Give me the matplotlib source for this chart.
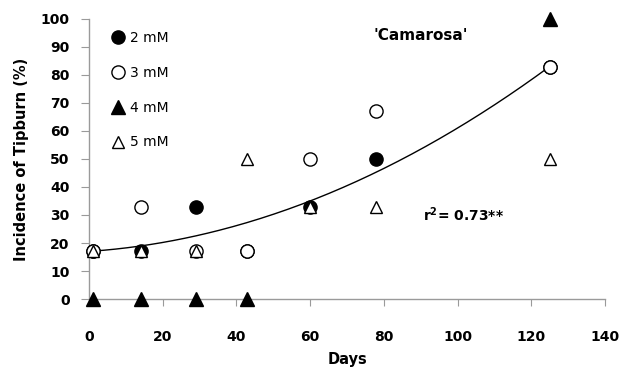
import numpy as np
import matplotlib.pyplot as plt

days = [1, 14, 29, 43, 60, 78, 125]
mm2 = [17, 17, 33, 17, 33, 50, 83]
mm3 = [17, 33, 17, 17, 50, 67, 83]
days4 = [1, 14, 29, 43, 125]
mm4 = [0, 0, 0, 0, 100]
mm5 = [17, 17, 17, 50, 33, 33, 50]

# quadratic trend line coefficients (a + b*x + c*x^2)
fit_coef = [17.0, 0.0895, 0.00351]

plt.rcParams['font.family'] = ['DejaVu Sans']

fig = plt.figure(figsize=(6.24, 3.71), dpi=100)
ax = fig.add_axes([0.1426, 0.194, 0.827, 0.755])

xs = np.linspace(1, 125, 200)
ax.plot(xs, fit_coef[0] + fit_coef[1] * xs + fit_coef[2] * xs ** 2,
        color="black", lw=1.0, zorder=2)

ms = 9.5
ax.plot(days, mm2, "o", ms=ms, mfc="black", mec="black", mew=1.0,
        label="2 mM", clip_on=False, zorder=3)
ax.plot(days, mm3, "o", ms=ms, mfc="white", mec="black", mew=1.0,
        label="3 mM", clip_on=False, zorder=4)
ax.plot(days4, mm4, "^", ms=ms, mfc="black", mec="black", mew=1.0,
        label="4 mM", clip_on=False, zorder=5)
ax.plot(days, mm5, "^", ms=ms - 1, mfc="white", mec="black", mew=1.0,
        label="5 mM", clip_on=False, zorder=6)

ax.set_xlim(0, 140)
ax.set_ylim(0, 100)
ax.set_xticks(range(0, 141, 20))
ax.set_yticks(range(0, 101, 10))

for s in ["top", "right"]:
    ax.spines[s].set_visible(False)
for s in ["left", "bottom"]:
    ax.spines[s].set_color("#9a9a9a")
    ax.spines[s].set_linewidth(1.0)

ax.tick_params(axis="y", direction="out", length=6, color="#9a9a9a", pad=8)
ax.tick_params(axis="x", direction="out", length=5, color="#9a9a9a", pad=17)
for lab in ax.get_xticklabels() + ax.get_yticklabels():
    lab.set_fontweight("bold")
    lab.set_fontsize(10)

ax.set_xlabel("Days", fontsize=10.5, fontweight="bold", labelpad=6)
ax.set_ylabel("Incidence of Tipburn (%)", fontsize=10.5, fontweight="bold", labelpad=8)

ax.text(90, 94, "'Camarosa'", fontsize=11, fontweight="bold",
        ha="center", va="center")
ax.text(101.5, 30, "r$^\\mathbf{2}$= 0.73**", fontsize=10, fontweight="bold",
        ha="center", va="center")

leg = ax.legend(loc="upper left", bbox_to_anchor=(0.034, 0.977), frameon=False,
                handlelength=0.8, handletextpad=0.5, labelspacing=1.5,
                fontsize=10, borderaxespad=0)

fig.savefig("out.png", dpi=100)
